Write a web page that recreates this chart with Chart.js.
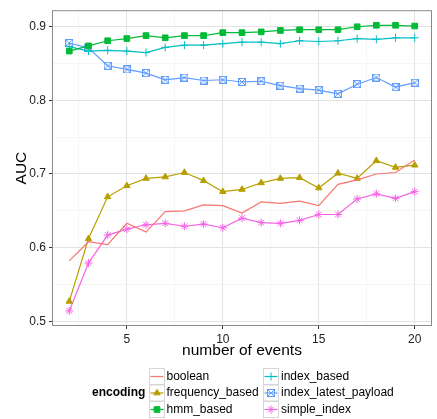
<!DOCTYPE html>
<html lang="en">
<head>
<meta charset="UTF-8">
<title>AUC by number of events</title>
<script src="https://cdn.jsdelivr.net/npm/chart.js"></script>
<style>
  body { margin: 0; background: #fff; }
</style>
</head>
<body>
<canvas id="grafico" width="437" height="419"></canvas>
<script>
// data
const events = [2,3,4,5,6,7,8,9,10,11,12,13,14,15,16,17,18,19,20]
const booleanAuc = [0.582,0.608,0.604,0.633,0.621,0.649,0.650,0.658,0.657,0.647,0.662,0.660,0.663,0.657,0.686,0.692,0.700,0.702,0.719]
const frequencyBased = [0.527,0.612,0.669,0.684,0.694,0.696,0.702,0.691,0.676,0.679,0.688,0.694,0.695,0.681,0.701,0.694,0.718,0.709,0.712]
const hmmBased = [0.867,0.874,0.881,0.884,0.888,0.885,0.888,0.888,0.892,0.892,0.893,0.895,0.896,0.896,0.896,0.900,0.902,0.902,0.901]
const indexBased = [0.873,0.867,0.868,0.867,0.865,0.872,0.875,0.875,0.877,0.879,0.879,0.877,0.881,0.880,0.881,0.884,0.883,0.885,0.885]
const indexLatestPayload = [0.878,0.871,0.847,0.842,0.837,0.828,0.831,0.827,0.828,0.825,0.826,0.820,0.816,0.814,0.809,0.822,0.831,0.818,0.824]
const simpleIndex = [0.514,0.579,0.617,0.625,0.631,0.633,0.629,0.632,0.627,0.640,0.634,0.633,0.637,0.645,0.645,0.666,0.673,0.667,0.676]

const seriesNames = ["boolean","frequency_based","hmm_based","index_based","index_latest_payload","simple_index"]
const yTicks = [0.5,0.55,0.6,0.65,0.7,0.75,0.8,0.85,0.9]
const xTicks = [2.5,5,7.5,10,12.5,15,17.5,20]

const FONT = '"Liberation Sans", Arial, sans-serif'
const colores = ["#F8766D","#B79F00","#00BA38","#00BFC4","#619CFF","#F564E3"]

// square with an x inside (ggplot shape 7)
const cuadroX = document.createElement('canvas')
cuadroX.width = 8; cuadroX.height = 8
{
  const c = cuadroX.getContext('2d')
  c.strokeStyle = colores[4]
  c.lineWidth = 1
  c.strokeRect(0.5,0.5,7,7)
  c.beginPath()
  c.moveTo(1,1); c.lineTo(7,7)
  c.moveTo(7,1); c.lineTo(1,7)
  c.stroke()
}

const puntos = arr => arr.map((v,i) => ({x: events[i], y: v}))
const estilos = [
  {pointStyle: 'circle', pointRadius: 0},
  {pointStyle: 'triangle', pointRadius: 3.7},
  {pointStyle: 'rect', pointRadius: 4},
  {pointStyle: 'cross', pointRadius: 4},
  {pointStyle: cuadroX, pointRadius: 4},
  {pointStyle: 'star', pointRadius: 4}
]
const valores = [booleanAuc, frequencyBased, hmmBased, indexBased, indexLatestPayload, simpleIndex]

const datasets = valores.map((v,i) => ({
  label: seriesNames[i],
  data: puntos(v),
  borderColor: colores[i],
  backgroundColor: colores[i],
  borderWidth: 1.2,
  pointBorderWidth: 1,
  pointStyle: estilos[i].pointStyle,
  pointRadius: estilos[i].pointRadius,
  tension: 0
}))

const esMayorY = v => Math.abs(v*10 - Math.round(v*10)) < 1e-6
const esMayorX = v => Math.abs(v % 5) < 1e-6

const bordePanel = {
  id: 'bordePanel',
  afterDatasetsDraw(chart) {
    const {ctx, chartArea: a} = chart
    ctx.save()
    ctx.strokeStyle = '#8a8a8a'
    ctx.lineWidth = 1
    ctx.strokeRect(a.left + 0.5, a.top + 0.5, a.right - a.left - 1, a.bottom - a.top - 1)
    ctx.restore()
  }
}

const leyenda = {
  id: 'leyenda',
  afterDraw(chart) {
    const ctx = chart.ctx
    ctx.save()
    ctx.textBaseline = 'middle'
    ctx.textAlign = 'left'
    ctx.fillStyle = '#000'
    ctx.font = 'bold 12px ' + FONT
    ctx.fillText('encoding', 92, 393)
    ctx.font = '12px ' + FONT
    chart.data.datasets.forEach((ds, i) => {
      const col = Math.floor(i/3), row = i % 3
      const bx = col ? 263.5 : 149.5
      const by = 368.5 + row*16.5
      const cx = bx + 7.5, cy = by + 8
      ctx.fillStyle = '#fff'
      ctx.strokeStyle = '#d6d6d6'
      ctx.lineWidth = 1
      ctx.fillRect(bx, by, 15, 16)
      ctx.strokeRect(bx, by, 15, 16)
      ctx.strokeStyle = ds.borderColor
      ctx.lineWidth = 1.2
      ctx.beginPath()
      ctx.moveTo(bx + 1, cy); ctx.lineTo(bx + 14, cy)
      ctx.stroke()
      if (ds.pointRadius > 0) {
        ctx.fillStyle = ds.backgroundColor
        ctx.strokeStyle = ds.borderColor
        ctx.lineWidth = 1
        if (Chart.helpers && Chart.helpers.drawPoint) {
          Chart.helpers.drawPoint(ctx, {pointStyle: ds.pointStyle, radius: ds.pointRadius, rotation: 0, borderWidth: 1}, cx, cy)
        } else if (ds.pointStyle instanceof HTMLCanvasElement) {
          ctx.drawImage(ds.pointStyle, cx - 4, cy - 4)
        }
      }
      ctx.fillStyle = '#000'
      ctx.fillText(ds.label, col ? 281 : 166.5, cy)
    })
    ctx.restore()
  }
}

const ctx = document.getElementById('grafico')
const grafico = new Chart(ctx, {
  type: 'line',
  data: { datasets: datasets },
  plugins: [bordePanel, leyenda],
  options: {
    responsive: false,
    animation: false,
    layout: { padding: { top: 6, right: 2, bottom: 59, left: 0 } },
    plugins: { legend: { display: false }, tooltip: { enabled: false } },
    scales: {
      x: {
        type: 'linear',
        min: 1.1,
        max: 20.9,
        afterBuildTicks: s => { s.ticks = xTicks.map(v => ({value: v})) },
        afterFit: s => { s.height = 34 },
        border: { display: false },
        grid: {
          color: c => esMayorX(c.tick.value) ? '#e3e3e3' : '#f3f3f3',
          lineWidth: c => esMayorX(c.tick.value) ? 1 : 0.8,
          tickColor: c => esMayorX(c.tick.value) ? '#333' : 'rgba(0,0,0,0)',
          tickLength: 3
        },
        ticks: {
          autoSkip: false,
          maxRotation: 0,
          padding: 3,
          color: '#222',
          font: { family: FONT, size: 12 },
          callback: v => esMayorX(v) ? String(v) : ''
        },
        title: {
          display: true,
          text: 'number of events',
          color: '#000',
          font: { family: FONT, size: 15.5 },
          padding: { top: 0, bottom: 0 }
        }
      },
      y: {
        type: 'linear',
        min: 0.4935,
        max: 0.9225,
        afterBuildTicks: s => { s.ticks = yTicks.map(v => ({value: v})) },
        afterFit: s => { s.width = 52 },
        border: { display: false },
        grid: {
          color: c => esMayorY(c.tick.value) ? '#e3e3e3' : '#f3f3f3',
          lineWidth: c => esMayorY(c.tick.value) ? 1 : 0.8,
          tickColor: c => esMayorY(c.tick.value) ? '#333' : 'rgba(0,0,0,0)',
          tickLength: 3
        },
        ticks: {
          autoSkip: false,
          padding: 3,
          color: '#222',
          font: { family: FONT, size: 12 },
          callback: v => esMayorY(v) ? v.toFixed(1) : ''
        },
        title: {
          display: true,
          text: 'AUC',
          color: '#000',
          font: { family: FONT, size: 15.5 },
          padding: { top: 12, bottom: 0 }
        }
      }
    }
  }
})
</script>
</body>
</html>
